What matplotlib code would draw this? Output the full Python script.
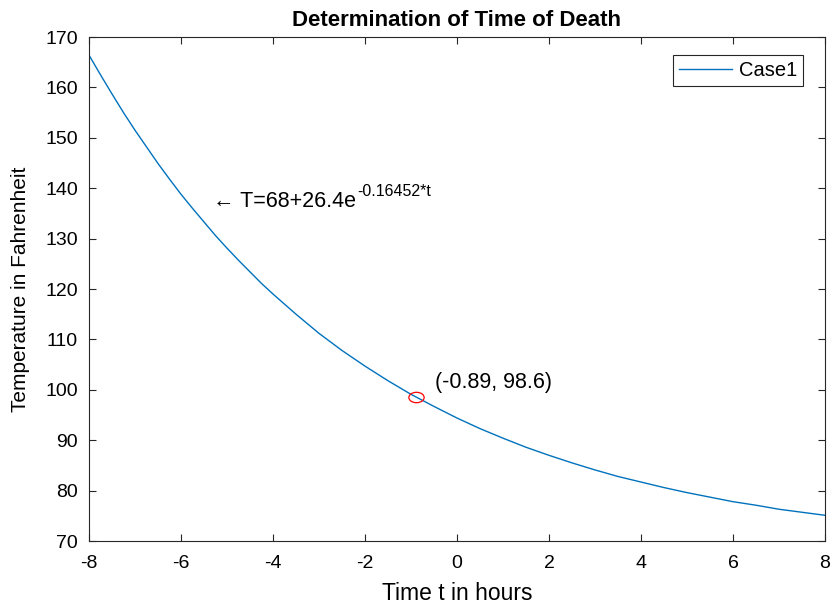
import numpy as np
import matplotlib
matplotlib.use('Agg')
import matplotlib.pyplot as plt
from matplotlib.path import Path
from matplotlib.transforms import Affine2D

# Temperature curve (hours, deg F)
t_hours = [-8, -7.75, -7.5, -7.25, -7, -6.75, -6.5, -6.25, -6, -5.75, -5.5, -5.25, -5,
           -4.75, -4.5, -4.25, -4, -3.5, -3, -2.5, -2, -1.5, -1, -0.5,
           0, 0.5, 1, 1.5, 2, 2.5, 3, 3.5, 4, 4.5, 5, 5.5, 6, 6.5, 7, 7.5, 8]
temp_f = [166.4, 162.5, 158.7, 155.0, 151.5, 148.2, 144.9, 141.8, 138.8, 136.0, 133.3, 130.6,
          128.1, 125.7, 123.4, 121.1, 119.0, 115.0, 111.2, 107.8, 104.7, 101.8, 99.1, 96.7,
          94.4, 92.3, 90.4, 88.6, 87.0, 85.5, 84.1, 82.8, 81.7, 80.6, 79.6, 78.7, 77.8,
          77.1, 76.3, 75.7, 75.1]
death_point = (-0.89, 98.6)

plt.rcParams['font.family'] = ['Liberation Sans', 'DejaVu Sans']
plt.rcParams['axes.unicode_minus'] = False

fig = plt.figure(figsize=(8.3, 6.04), dpi=100)
ax = fig.add_axes([89 / 830, (604 - 541) / 604, (825 - 89) / 830, (541 - 37) / 604])

ax.plot(t_hours, temp_f, color='#0072BD', lw=1.0, label='Case1')

# slightly wide circle, as in the (stretched) original
oval = Affine2D().scale(1.0, 0.68).transform_path(Path.unit_circle())
ax.plot(death_point[0], death_point[1], marker=oval, ls='none', mfc='none', mec='red',
        ms=11, mew=0.9)

eq = ax.text(-5.3, 137.3, '\u2190 T=68+26.4e', fontsize=15.5, va='center')
ax.annotate('-0.16452*t', xy=(1, 0.77), xycoords=eq, xytext=(1, 0),
            textcoords='offset points', fontsize=11.5, va='baseline', ha='left')
ax.text(-0.48, 101.35, '(-0.89, 98.6)', fontsize=15.5, va='center')

ax.set_xlim(-8, 8)
ax.set_ylim(70, 170)
ax.set_xticks(np.arange(-8, 9, 2))
ax.set_yticks(np.arange(70, 171, 10))
ax.tick_params(direction='in', top=True, right=True, labelsize=14, length=5,
               colors='#262626', labelcolor='black')
ax.tick_params(axis='x', pad=10)
ax.tick_params(axis='y', pad=8)
for s in ax.spines.values():
    s.set_edgecolor('#262626')
    s.set_linewidth(0.8)

ax.set_xlabel('Time t in hours', fontsize=16.5, labelpad=7)
ax.set_ylabel('Temperature in Fahrenheit', fontsize=15, labelpad=11)
ax.set_title('Determination of Time of Death', fontsize=16, fontweight='bold', pad=8)

leg = ax.legend(loc='upper right', bbox_to_anchor=(0.970, 0.964), borderaxespad=0,
                fontsize=14.5, fancybox=False, framealpha=1, edgecolor='#262626',
                handlelength=2.6, borderpad=0.3, handletextpad=0.35)
leg.get_frame().set_linewidth(0.8)

fig.savefig('out.png', dpi=100, facecolor='white')
